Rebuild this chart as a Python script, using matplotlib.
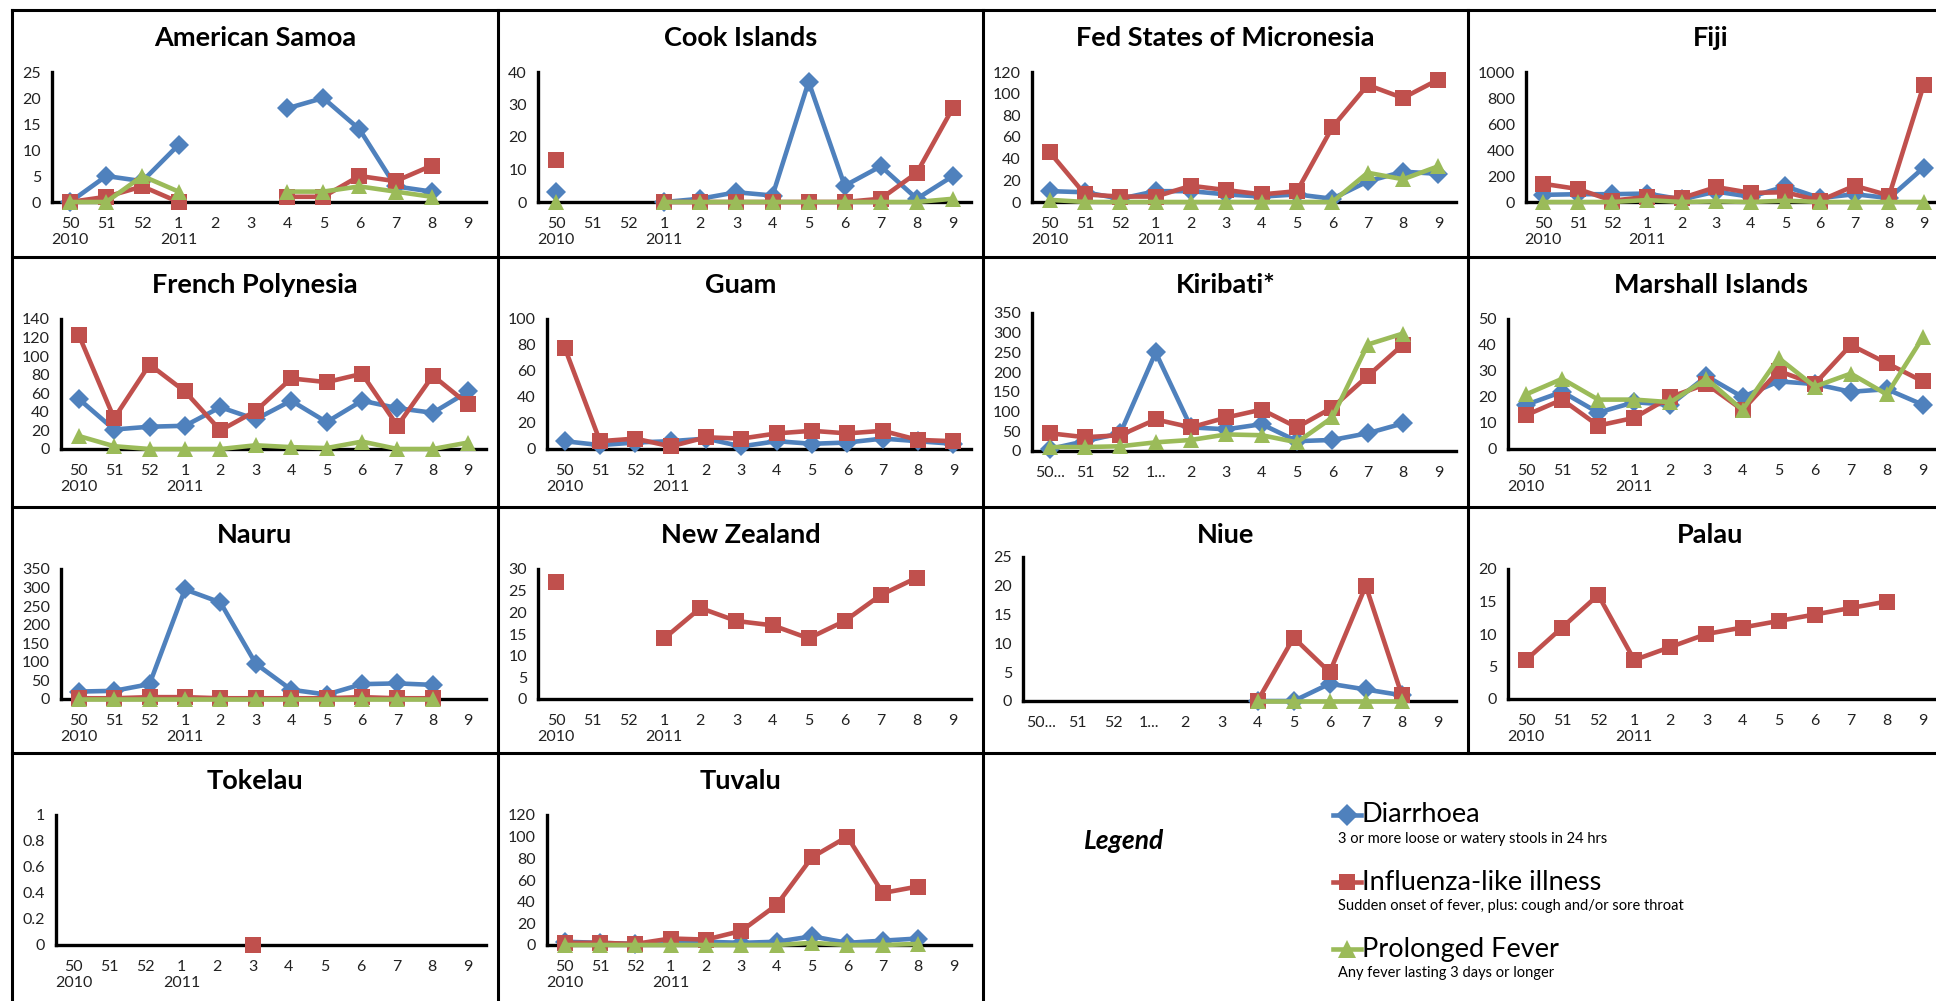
import numpy as np
import matplotlib.pyplot as plt
from matplotlib.lines import Line2D

plt.rcParams['font.family'] = ['Lato', 'DejaVu Sans']

nan = np.nan
W, H = 1936, 1001

weeks = ['50', '51', '52', '1', '2', '3', '4', '5', '6', '7', '8', '9']
weeks_short = ['50...', '51', '52', '1...', '2', '3', '4', '5', '6', '7', '8', '9']
years = ['2010', '', '', '2011', '', '', '', '', '', '', '', '']

# weekly case counts: diarrhoea, influenza-like illness, prolonged fever
asam_diar = [0, 5, 4, 11, nan, nan, 18, 20, 14, 3, 2, nan]
asam_ili = [0, 1, 3, 0, nan, nan, 1, 1, 5, 4, 7, nan]
asam_fev = [0, 0, 5, 2, nan, nan, 2, 2, 3, 2, 1, nan]

cook_diar = [3, nan, nan, 0, 1, 3, 2, 37, 5, 11, 1, 8]
cook_ili = [13, nan, nan, 0, 0, 0, 0, 0, 0, 1, 9, 29]
cook_fev = [0, nan, nan, 0, 0, 0, 0, 0, 0, 0, 0, 1]

fsm_diar = [10, 9, 3, 10, 10, 7, 5, 7, 3, 19, 28, 26]
fsm_ili = [46, 7, 5, 5, 15, 11, 7, 10, 69, 108, 96, 113]
fsm_fev = [2, 0, 0, 0, 0, 0, 0, 0, 0, 27, 21, 33]

fiji_diar = [55, 60, 60, 65, 20, 80, 40, 120, 30, 60, 30, 265]
fiji_ili = [140, 100, 10, 40, 30, 115, 70, 75, 10, 125, 50, 900]
fiji_fev = [0, 0, 0, 15, 0, 5, 0, 10, 0, 0, 0, 0]

frpo_diar = [54, 21, 24, 25, 45, 32, 52, 29, 52, 44, 39, 62]
frpo_ili = [123, 33, 91, 62, 20, 41, 76, 72, 81, 25, 79, 48]
frpo_fev = [14, 3, 0, 0, 0, 4, 2, 1, 8, 0, 0, 7]

guam_diar = [6, 3, 5, 6, 8, 2, 6, 4, 5, 8, 6, 4]
guam_ili = [78, 6, 8, 2, 9, 8, 12, 14, 12, 14, 7, 6]

kiri_diar = [5, 25, 45, 250, 60, 55, 68, 25, 28, 45, 70, nan]
kiri_ili = [45, 35, 40, 80, 60, 85, 105, 60, 110, 190, 270, nan]
kiri_fev = [10, 10, 12, 22, 28, 42, 40, 22, 85, 270, 298, nan]

mars_diar = [17, 22, 14, 18, 17, 28, 20, 26, 25, 22, 23, 17]
mars_ili = [13, 19, 9, 12, 20, 25, 15, 30, 25, 40, 33, 26]
mars_fev = [21, 27, 19, 19, 18, 27, 15, 35, 24, 29, 21, 43]

naur_diar = [20, 22, 40, 295, 260, 95, 25, 12, 40, 42, 38, nan]
naur_ili = [2, 2, 5, 5, 2, 2, 2, 2, 5, 2, 2, nan]
naur_fev = [0, 0, 0, 0, 0, 0, 0, 0, 0, 0, 0, nan]

nz_ili = [27, nan, nan, 14, 21, 18, 17, 14, 18, 24, 28, nan]

niue_diar = [nan, nan, nan, nan, nan, nan, 0, 0, 3, 2, 1, nan]
niue_ili = [nan, nan, nan, nan, nan, nan, 0, 11, 5, 20, 1, nan]
niue_fev = [nan, nan, nan, nan, nan, nan, 0, 0, 0, 0, 0, nan]

pala_ili = [6, 11, 16, 6, 8, 10, 11, 12, 13, 14, 15, nan]

toke_ili = [nan, nan, nan, nan, nan, 0, nan, nan, nan, nan, nan, nan]

tuva_diar = [3, 2, 1, 3, 3, 2, 3, 8, 2, 4, 6, nan]
tuva_ili = [2, 2, 1, 6, 5, 13, 37, 81, 100, 48, 54, nan]
tuva_fev = [0, 0, 0, 0, 0, 0, 0, 2, 0, 0, 1, nan]

# (title, col, row, diarrhoea, ili, fever, ymax, ystep, short labels)
panels = [
    ('American Samoa', 0, 0, asam_diar, asam_ili, asam_fev, 25, 5, False),
    ('Cook Islands', 1, 0, cook_diar, cook_ili, cook_fev, 40, 10, False),
    ('Fed States of Micronesia', 2, 0, fsm_diar, fsm_ili, fsm_fev, 120, 20, False),
    ('Fiji', 3, 0, fiji_diar, fiji_ili, fiji_fev, 1000, 200, False),
    ('French Polynesia', 0, 1, frpo_diar, frpo_ili, frpo_fev, 140, 20, False),
    ('Guam', 1, 1, guam_diar, guam_ili, None, 100, 20, False),
    ('Kiribati*', 2, 1, kiri_diar, kiri_ili, kiri_fev, 350, 50, True),
    ('Marshall Islands', 3, 1, mars_diar, mars_ili, mars_fev, 50, 10, False),
    ('Nauru', 0, 2, naur_diar, naur_ili, naur_fev, 350, 50, False),
    ('New Zealand', 1, 2, None, nz_ili, None, 30, 5, False),
    ('Niue', 2, 2, niue_diar, niue_ili, niue_fev, 25, 5, True),
    ('Palau', 3, 2, None, pala_ili, None, 20, 5, False),
    ('Tokelau', 0, 3, None, toke_ili, None, 1, 0.2, False),
    ('Tuvalu', 1, 3, tuva_diar, tuva_ili, tuva_fev, 120, 20, False),
]

col_x = [12, 498, 983, 1468, 1953]
row_y = [10, 257, 507, 753, 1001]

BLUE = '#4F81BD'
RED = '#C0504D'
GREEN = '#9BBB59'
styles = [(BLUE, 'D', 10), (RED, 's', 11), (GREEN, '^', 12)]


def fx(x):
    return x / W


def fy(y):
    return 1 - y / H


fig = plt.figure(figsize=(W / 100, H / 100), dpi=100)

x = np.arange(len(weeks))
for title, c, r, diar, ili, fev, ymax, ystep, short in panels:
    x0, x1 = col_x[c], col_x[c + 1]
    y0 = row_y[r]
    ticks = np.arange(0, ymax + ystep / 2, ystep)
    labels = ['%g' % round(t, 1) for t in ticks]
    ndig = max(len(s) for s in labels)
    left = x0 + 22 + 9 * ndig
    if title == 'Tokelau':
        left = x0 + 44
    right = x1 - 12
    top = y0 + (50 if title == 'Niue' else 56 if short else 62)
    bottom = y0 + (192 if not short else 194)
    ax = fig.add_axes([fx(left), fy(bottom), (right - left) / W, (bottom - top) / H])
    for vals, (col, mk, ms) in zip([diar, ili, fev], styles):
        if vals is None:
            continue
        ax.plot(x, vals, color=col, lw=3.3, marker=mk, ms=ms, mec=col, mew=0,
                clip_on=False, zorder=5)
    ax.set_xlim(-0.5, 11.5)
    ax.set_ylim(0, ymax)
    ax.set_yticks(ticks)
    ax.set_yticklabels(labels)
    ax.set_xticks(x)
    if short:
        ax.set_xticklabels(weeks_short)
    else:
        ax.set_xticklabels([w + ('\n' + yr if yr else '') for w, yr in zip(weeks, years)],
                           va='top', linespacing=1.15)
    ax.tick_params(length=0, labelsize=11.5, colors='#222222')
    ax.tick_params(axis='y', pad=8)
    ax.tick_params(axis='x', pad=11)
    for s in ['top', 'right']:
        ax.spines[s].set_visible(False)
    for s in ['left', 'bottom']:
        ax.spines[s].set_linewidth(2.4)
        ax.spines[s].set_color('black')
    ax.patch.set_alpha(0)
    fig.text(fx((x0 + x1) / 2), fy(y0 + 28), title, ha='center', va='center',
             fontsize=19.5, fontweight='bold')


# panel borders
def hline(y, xa, xb):
    fig.add_artist(Line2D([fx(xa), fx(xb)], [fy(y), fy(y)], color='black', lw=2.2))


def vline(xv, ya, yb):
    fig.add_artist(Line2D([fx(xv), fx(xv)], [fy(ya), fy(yb)], color='black', lw=2.2))


for yb in row_y[:4]:
    hline(yb, 12, 1936)
for xv in col_x[:3]:
    vline(xv, 10, 1001)
vline(col_x[3], 10, 753)

# legend panel
fig.text(fx(1124), fy(841), 'Legend', ha='center', va='center', fontsize=19,
         fontweight='bold', style='italic')
legend_names = ['Diarrhoea', 'Influenza-like illness', 'Prolonged Fever']
legend_notes = ['3 or more loose or watery stools in 24 hrs',
                'Sudden onset of fever, plus: cough and/or sore throat',
                'Any fever lasting 3 days or longer']
legend_y = [815, 882, 949]
for (col, mk, ms), name, note, ly in zip(styles, legend_names, legend_notes, legend_y):
    fig.add_artist(Line2D([fx(1333), fx(1361)], [fy(ly), fy(ly)], color=col, lw=3.3))
    fig.add_artist(Line2D([fx(1347)], [fy(ly)], color=col, marker=mk, ms=ms + 1, mew=0))
    fig.text(fx(1362), fy(ly), name, ha='left', va='center', fontsize=19.5)
    fig.text(fx(1338), fy(ly + 24), note, ha='left', va='center', fontsize=10.5)

fig.savefig('out.png', dpi=100)
